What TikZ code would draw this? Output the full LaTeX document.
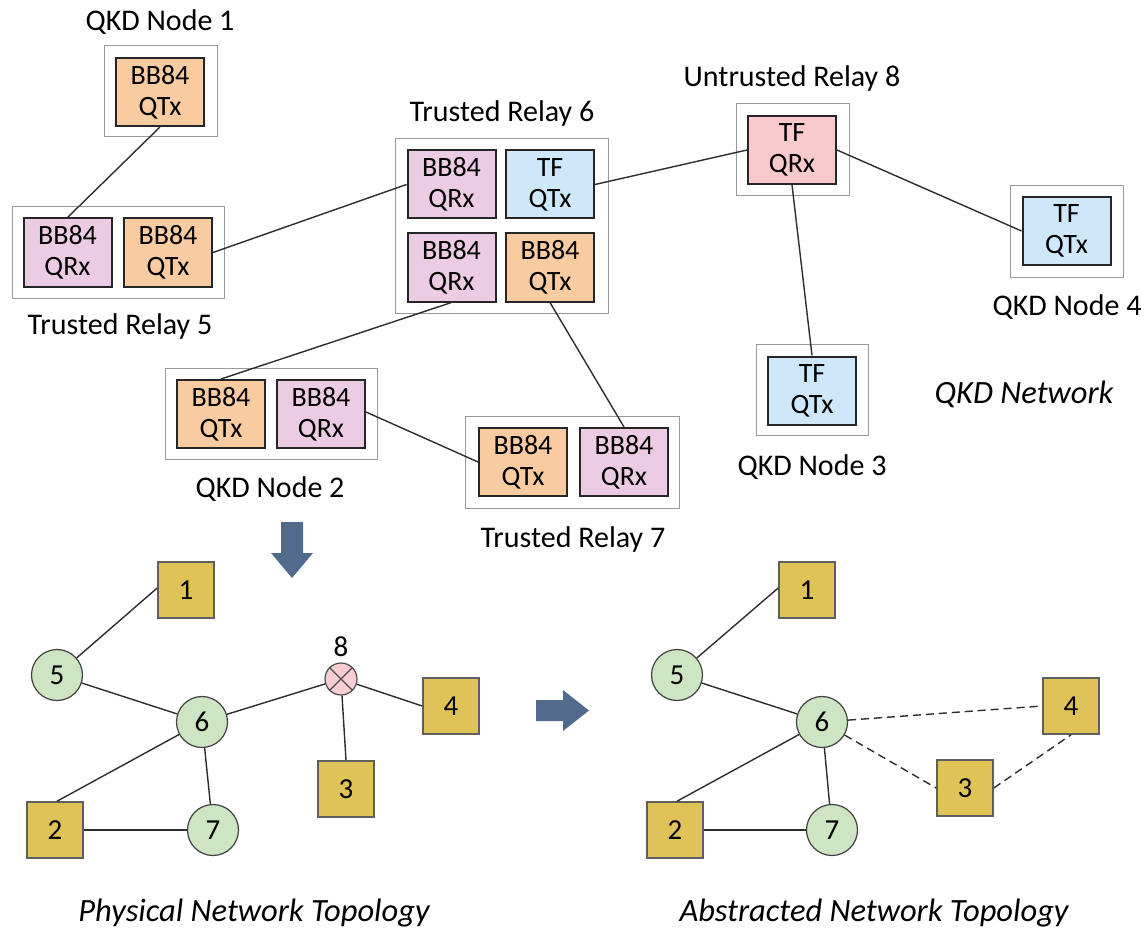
\documentclass[tikz,border=0pt]{standalone}
\usepackage{fontspec}
\setmainfont{Carlito}
\definecolor{txorange}{RGB}{248,203,160}
\definecolor{rxpink}{RGB}{236,204,228}
\definecolor{tfblue}{RGB}{206,232,250}
\definecolor{tfred}{RGB}{248,202,204}
\definecolor{sqfill}{RGB}{224,195,86}
\definecolor{sqdraw}{RGB}{95,95,95}
\definecolor{cfill}{RGB}{206,229,196}
\definecolor{xfill}{RGB}{248,206,212}
\definecolor{arrowblue}{RGB}{82,106,140}
\definecolor{linkgray}{RGB}{45,45,45}
\begin{document}
\begin{tikzpicture}[x=1pt,y=-1pt,
  lbl/.style={anchor=base,inner sep=0pt,font=\fontsize{30}{34}\selectfont},
  ilbl/.style={anchor=base,inner sep=0pt,font=\fontsize{32.5}{36}\selectfont\itshape},
  module/.style={draw=black!85,line width=2pt,minimum width=88pt,minimum height=68pt,
    inner sep=0pt,align=center,font=\fontsize{28}{31}\selectfont},
  bbtx/.style={module,fill=txorange},
  bbrx/.style={module,fill=rxpink},
  tftx/.style={module,fill=tfblue},
  tfrx/.style={module,fill=tfred},
  site/.style={draw=black!40,line width=1pt,inner sep=0pt},
  link/.style={draw=linkgray,line width=1.4pt},
  keynode/.style={draw=sqdraw,fill=sqfill,line width=1.6pt,minimum size=56pt,inner sep=0pt,
    font=\fontsize{29}{32}\selectfont},
  relay/.style={circle,draw=black!75,fill=cfill,line width=1.2pt,minimum size=51pt,inner sep=0pt,
    font=\fontsize{29}{32}\selectfont},
  virt/.style={link,dashed,dash pattern=on 8pt off 5pt},
  bigarrow/.style={fill=arrowblue,draw=none}]
\useasboundingbox (0,0) rectangle (1147,933);

% ---------- enclosures of the sites ----------
\node[site,minimum width=113pt,minimum height=91pt] (s1) at (160.5,91.5) {};
\node[site,minimum width=212pt,minimum height=91pt] (s5) at (118,252.5) {};
\node[site,minimum width=213pt,minimum height=174pt] (s6) at (501.5,226) {};
\node[site,minimum width=113pt,minimum height=92pt] (s8) at (792.5,150) {};
\node[site,minimum width=113pt,minimum height=91pt] (s4) at (1066.5,231.5) {};
\node[site,minimum width=112pt,minimum height=91pt] (s3) at (812,389.5) {};
\node[site,minimum width=212pt,minimum height=91pt] (s2) at (271,413.5) {};
\node[site,minimum width=214pt,minimum height=92pt] (s7) at (572,462) {};

% ---------- transmitter / receiver modules ----------
\node[bbtx] (n1) at (160,92) {BB84\\QTx};
\node[bbrx] (r5rx) at (67.5,252.5) {BB84\\QRx};
\node[bbtx] (r5tx) at (168,252.5) {BB84\\QTx};
\node[bbrx] (r6rxa) at (451.5,184.5) {BB84\\QRx};
\node[tftx] (r6tf) at (550,184.5) {TF\\QTx};
\node[bbrx] (r6rxb) at (451.5,267.5) {BB84\\QRx};
\node[bbtx] (r6tx) at (550,267.5) {BB84\\QTx};
\node[tfrx] (r8) at (792,150) {TF\\QRx};
\node[tftx] (n4) at (1066.5,231) {TF\\QTx};
\node[tftx] (n3) at (812,390.5) {TF\\QTx};
\node[bbtx] (n2tx) at (221,414) {BB84\\QTx};
\node[bbrx] (n2rx) at (321,414) {BB84\\QRx};
\node[bbtx] (r7tx) at (523,462) {BB84\\QTx};
\node[bbrx] (r7rx) at (624,462) {BB84\\QRx};

% ---------- site labels ----------
\node[lbl] (l1) at (160,31) {QKD Node 1};
\node[lbl] (l8) at (792,87) {Untrusted Relay 8};
\node[lbl] (l6) at (502,122) {Trusted Relay 6};
\node[lbl] (l5) at (120,334) {Trusted Relay 5};
\node[lbl] (l4) at (1067,315) {QKD Node 4};
\node[ilbl] (lnet) at (1024,403) {QKD Network};
\node[lbl] (l3) at (812,475) {QKD Node 3};
\node[lbl] (l2) at (270,497) {QKD Node 2};
\node[lbl] (l7) at (573,547) {Trusted Relay 7};

% ---------- quantum links ----------
\draw[link] (n1.south) -- (r5rx.north);
\draw[link] (r5tx.east) -- (r6rxa.west);
\draw[link] (r6tf.east) -- (r8.west);
\draw[link] (r6rxb.south) -- (n2tx.north);
\draw[link] (r6tx.south) -- (r7rx.north);
\draw[link] ([yshift=2pt]n2rx.east) -- (r7tx.west);
\draw[link] (r8.south) -- (n3.north);
\draw[link] (r8.east) -- (n4.west);

% ---------- arrows between the views ----------
\fill[bigarrow] (281,522) -- (303,522) -- (303,553) -- (313,553) -- (292,578)
  -- (271,553) -- (281,553) -- cycle;
\fill[bigarrow] (536,700) -- (563,700) -- (563,690) -- (589,710.5) -- (563,731)
  -- (563,721) -- (536,721) -- cycle;

% ---------- physical network topology ----------
\node[keynode] (p1) at (186,590) {1};
\node[relay] (p5) at (57,675) {5};
\node[relay] (p6) at (202,722) {6};
\node[relay] (p7) at (213,830) {7};
\node[keynode] (p2) at (55,830) {2};
\node[circle,draw=black!70,fill=xfill,line width=1.2pt,minimum size=32pt,inner sep=0pt] (p8) at (341,679) {};
\draw[black!70,line width=1.2pt] (p8.north east) -- (p8.south west) (p8.north west) -- (p8.south east);
\node[lbl,font=\fontsize{29}{32}\selectfont] (p8l) at (341,656) {8};
\node[keynode] (p4) at (451,706) {4};
\node[keynode] (p3) at (346,789) {3};

\draw[link] ([yshift=2pt]p1.west) -- (p5);
\draw[link] (p5) -- (p6);
\draw[link] (p6) -- (p8);
\draw[link] (p8) -- (p4.west);
\draw[link] (p8) -- (p3.north);
\draw[link] (p6) -- ([xshift=2pt]p2.north);
\draw[link] (p6) -- (p7);
\draw[link,line width=2.2pt] (p2) -- (p7);

\node[ilbl] (tphys) at (254,921) {Physical Network Topology};

% ---------- abstracted network topology ----------
\node[keynode] (a1) at (807,590) {1};
\node[relay] (a5) at (677,675) {5};
\node[relay] (a6) at (822,722) {6};
\node[relay] (a7) at (832,830) {7};
\node[keynode] (a2) at (675,830) {2};
\node[keynode] (a4) at (1071,706) {4};
\node[keynode] (a3) at (965,788) {3};

\draw[link] ([yshift=2pt]a1.west) -- (a5);
\draw[link] (a5) -- (a6);
\draw[link] (a6) -- ([xshift=2pt]a2.north);
\draw[link] (a6) -- (a7);
\draw[link,line width=2.2pt] (a2) -- (a7);
\draw[virt] (a6) -- (a4.west);
\draw[virt] (a6) -- (a3.west);
\draw[virt] (a3.east) -- (a4.south);

\node[ilbl] (tabs) at (874,921) {Abstracted Network Topology};
\end{tikzpicture}
\end{document}
